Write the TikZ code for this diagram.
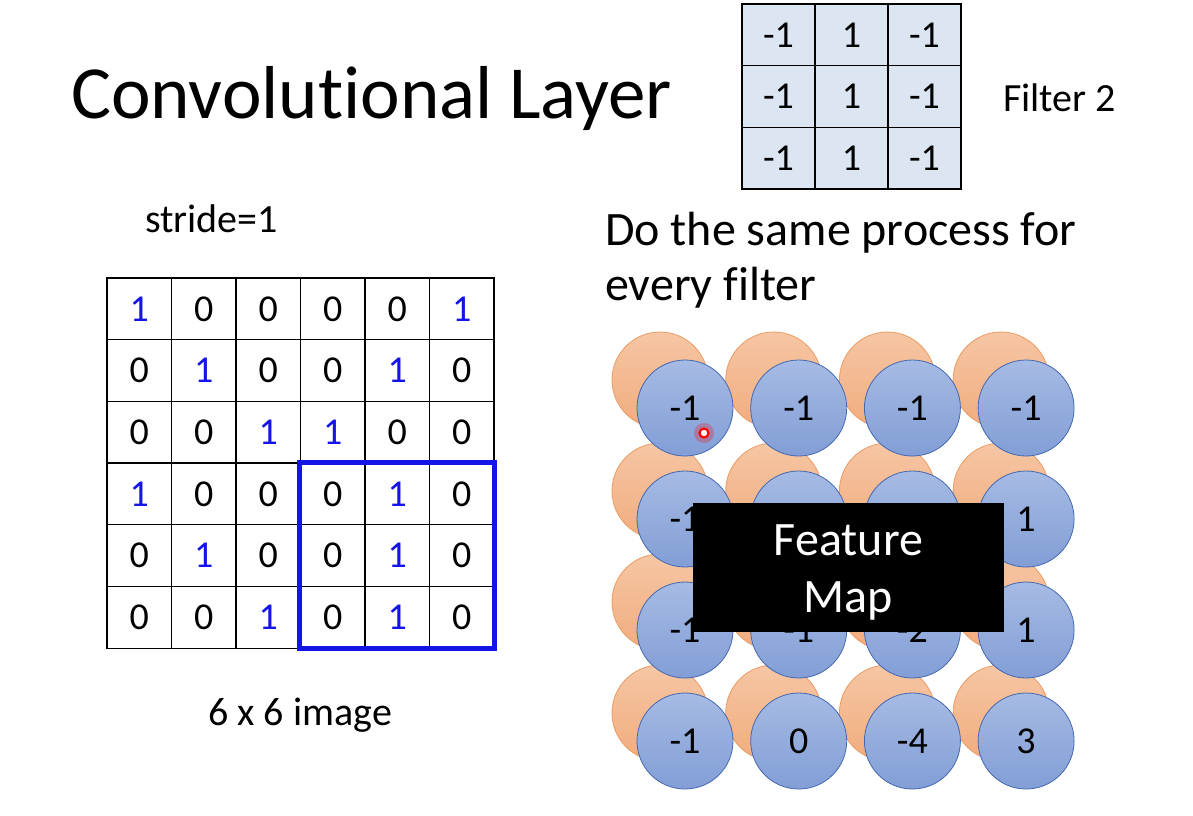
\documentclass[tikz,border=0pt]{standalone}
\usepackage{fontspec}
\setmainfont[Ligatures=NoCommon]{Carlito}
\usetikzlibrary{positioning}

\definecolor{oneblue}{RGB}{20,20,230}
\definecolor{filterfill}{RGB}{220,230,242}
\definecolor{fmbluetop}{RGB}{166,187,228}
\definecolor{fmbluebot}{RGB}{130,158,214}
\definecolor{fmblueline}{RGB}{68,104,176}
\definecolor{fmorangetop}{RGB}{246,198,164}
\definecolor{fmorangebot}{RGB}{241,172,126}
\definecolor{fmorangeline}{RGB}{236,155,98}

\begin{document}
\begin{tikzpicture}[
  x=1pt, y=-1pt,
  cell/.style={draw, line width=1.3pt, minimum width=64.5pt, minimum height=61.7pt,
  inner sep=0pt, font=\fontsize{38}{44}\selectfont},
  fcell/.style={cell, fill=filterfill, minimum width=73pt},
  window/.style={draw=oneblue, line width=5pt},
  backdisc/.style={circle, minimum size=96pt, inner sep=0pt, draw=fmorangeline,
  line width=0.8pt, top color=fmorangetop, bottom color=fmorangebot},
  frontdisc/.style={circle, minimum size=96pt, inner sep=0pt, draw=fmblueline,
  line width=0.8pt, top color=fmbluetop, bottom color=fmbluebot,
  font=\fontsize{38}{42}\selectfont},
  label/.style={inner sep=0pt, font=\fontsize{#1}{#1}\selectfont}
]
  \useasboundingbox (0,0) rectangle (1193,815);

  % titles and captions
  \node[label=75, anchor=base west] (title) at (71,118) {Convolutional Layer};
  \node[label=40, anchor=base west] (stride) at (145,232) {stride=1};
  \node[label=40, anchor=base west] (caption) at (208,725) {6 x 6 image};
  \node[label=40, anchor=base west] (fname) at (1003,111) {Filter 2};
  \node[label=48, anchor=base west] (same) at (605,245) {Do the same process for};
  \node[label=48, anchor=base west] (every) at (605,300) {every filter};

  % 6 x 6 image
  \foreach \row/\vals in {1/{1,0,0,0,0,1}, 2/{0,1,0,0,1,0}, 3/{0,0,1,1,0,0},
                          4/{1,0,0,0,1,0}, 5/{0,1,0,0,1,0}, 6/{0,0,1,0,1,0}}
    \foreach \v [count=\col] in \vals
      \node[cell] (img-\row-\col) at ({107+64.5*(\col-0.5)},{278+61.7*(\row-0.5)})
        {\ifnum\v=1 \color{oneblue}\fi\v};
  \draw[window] (img-4-4.north west) rectangle (img-6-6.south east);

  % filter 2
  \foreach \row in {1,2,3}
    \foreach \v [count=\col] in {-1,1,-1}
      \node[fcell] (f-\row-\col) at ({742+73*(\col-0.5)},{4+61.7*(\row-0.5)}) {\v};

  % feature maps
  \foreach \row in {1,...,4}
    \foreach \col in {1,...,4}
      \node[backdisc] (b-\row-\col) at ({660+113.7*(\col-1)},{380+111*(\row-1)}) {};
  \foreach \row/\vals in {1/{-1,-1,-1,-1}, 2/{-1,,,1}, 3/{-1,-1,-2,1}, 4/{-1,0,-4,3}}
    \foreach \v [count=\col] in \vals
      \node[frontdisc] (m-\row-\col) at ({685+113.7*(\col-1)},{408+111*(\row-1)}) {\v};

  % pointer
  \node[circle, fill=red, opacity=0.25, minimum size=20pt, inner sep=0pt] (glow) at (704,433) {};
  \node[circle, draw=red, line width=2.2pt, fill=white, minimum size=9pt, inner sep=0pt]
    (cursor) at (glow) {};

  % caption box
  \node[fill=black, minimum width=311pt, minimum height=129pt] (fmap) at (848.5,567.5) {};
  \node[text=white, align=center, font=\fontsize{48}{57}\selectfont, yshift=-5pt]
    (fmaptext) at (fmap.center) {Feature\\Map};
\end{tikzpicture}
\end{document}
